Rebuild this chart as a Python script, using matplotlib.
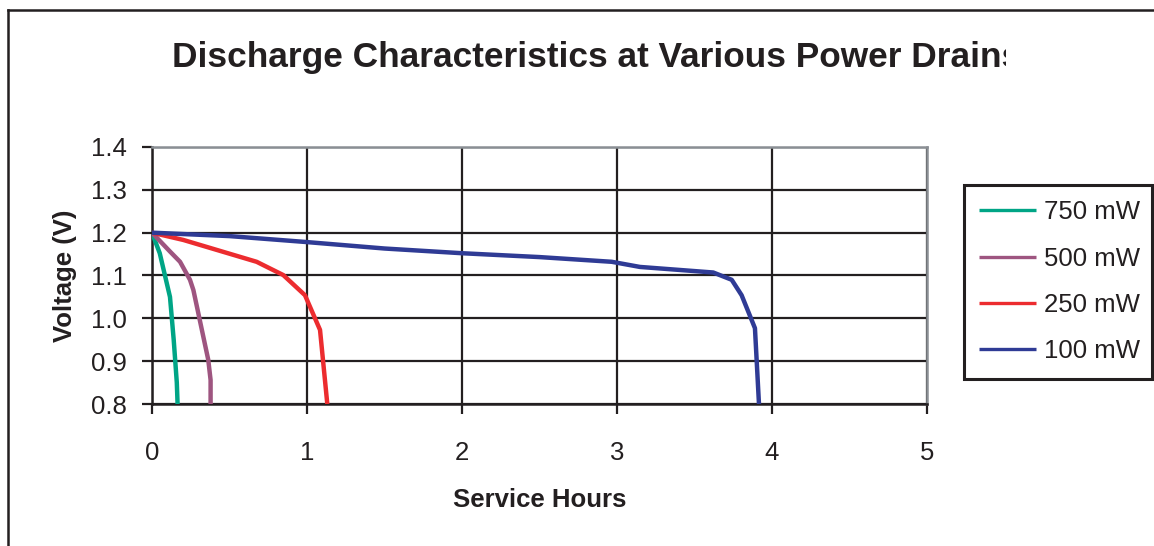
import matplotlib
matplotlib.use('Agg')
from matplotlib import pyplot as plt
from matplotlib.lines import Line2D
from matplotlib.transforms import Bbox

plt.rcParams['font.family'] = ['Liberation Sans', 'DejaVu Sans']

# discharge curves
hours_750 = [0, 0.05, 0.116, 0.14, 0.16, 0.165]
volts_750 = [1.2, 1.152, 1.05, 0.95, 0.85, 0.8]

hours_500 = [0, 0.116, 0.181, 0.245, 0.267, 0.363, 0.378, 0.378]
volts_500 = [1.2, 1.156, 1.132, 1.09, 1.066, 0.903, 0.856, 0.8]

hours_250 = [0, 0.202, 0.675, 0.847, 0.987, 1.084, 1.131]
volts_250 = [1.2, 1.183, 1.132, 1.101, 1.054, 0.973, 0.8]

hours_100 = [0, 0.5, 1.0, 1.5, 2.0, 2.5, 2.966, 3.148, 3.621, 3.74, 3.804, 3.89, 3.916]
volts_100 = [1.2, 1.192, 1.178, 1.163, 1.152, 1.143, 1.132, 1.12, 1.107, 1.09, 1.054, 0.977, 0.8]

series = [
    ('750 mW', hours_750, volts_750, '#00a586'),
    ('500 mW', hours_500, volts_500, '#9e5580'),
    ('250 mW', hours_250, volts_250, '#ec2c2f'),
    ('100 mW', hours_100, volts_100, '#2f3b95'),
]

x_ticks = [0, 1, 2, 3, 4, 5]
y_ticks = [0.8, 0.9, 1.0, 1.1, 1.2, 1.3, 1.4]

W, H = 1154, 546
fig = plt.figure(figsize=(W / 100, H / 100), dpi=100)
ax = fig.add_axes([152 / W, 1 - 404 / H, (927 - 152) / W, (404 - 147) / H])

for label, x, y, c in series:
    ax.plot(x, y, color=c, lw=3.2, label=label, solid_capstyle='butt', zorder=3)

ax.set_xlim(0, 5)
ax.set_ylim(0.8, 1.4)
ax.set_xticks(x_ticks)
ax.set_yticks(y_ticks)
ax.set_xticklabels([str(t) for t in x_ticks])
ax.set_yticklabels(['%.1f' % t for t in y_ticks])
ax.tick_params(axis='both', labelsize=18.5, colors='#231f20', length=7, width=1.6, direction='out')
ax.tick_params(axis='x', pad=20)
ax.tick_params(axis='y', pad=11)
ax.grid(True, color='#231f20', lw=1.6, zorder=1)

for side in ('left', 'bottom'):
    ax.spines[side].set_color('#231f20')
    ax.spines[side].set_linewidth(1.8)
for side in ('right', 'top'):
    ax.spines[side].set_color('#8a8f94')
    ax.spines[side].set_linewidth(1.8)

ax.set_xlabel('Service Hours', fontsize=18.5, fontweight='bold', color='#231f20', labelpad=16)
ax.set_ylabel('Voltage (V)', fontsize=18.5, fontweight='bold', color='#231f20', labelpad=10)

t = fig.text(172 / W, 1 - 58 / H, 'Discharge Characteristics at Various Power Drains',
             fontsize=25.4, fontweight='bold', color='#231f20', va='center', ha='left')
t.set_clip_box(Bbox.from_extents(0, 0, 1006, H))
t.set_clip_on(True)

leg = ax.legend(loc='upper left', bbox_to_anchor=(964 / W, 1 - 375 / H, (1152 - 964) / W, (375 - 185) / H),
                bbox_transform=fig.transFigure, mode='expand', fontsize=18.5, frameon=True,
                fancybox=False, edgecolor='#231f20', framealpha=1, handlelength=2.2,
                handletextpad=0.32, labelspacing=0.87, borderaxespad=0, borderpad=0.6)
leg.get_frame().set_linewidth(2.2)
for txt in leg.get_texts():
    txt.set_color('#231f20')
for ln in leg.get_lines():
    ln.set_linewidth(2.4)

# outer chart frame (cut at right and bottom)
fig.add_artist(Line2D([8 / W, 8 / W], [0, 1 - 10 / H], color='#231f20', lw=1.8, transform=fig.transFigure))
fig.add_artist(Line2D([8 / W, 1], [1 - 10 / H, 1 - 10 / H], color='#231f20', lw=1.8, transform=fig.transFigure))

fig.savefig('out.png', dpi=100)
